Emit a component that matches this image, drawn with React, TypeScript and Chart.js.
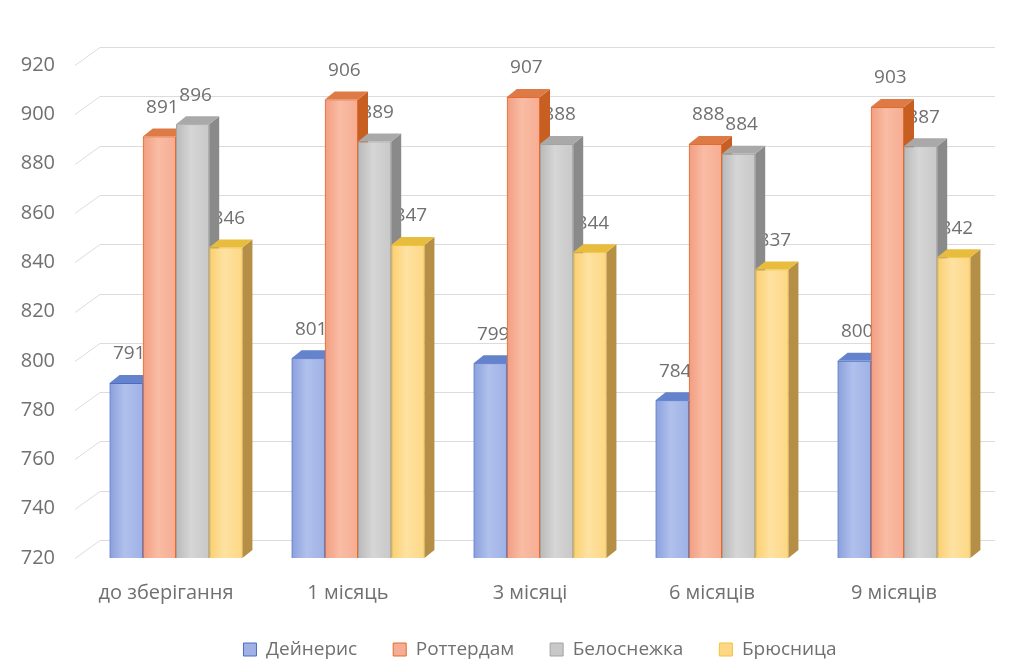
import React, { useEffect, useRef } from "react";
import { Chart, registerables } from "chart.js";

Chart.register(...registerables);

const categories = ["до зберігання", "1 місяць", "3 місяці", "6 місяців", "9 місяців"];
const seriesNames = ["Дейнерис", "Роттердам", "Белоснежка", "Брюсница"];
const dayneris = [791, 801, 799, 784, 800];
const rotterdam = [891, 906, 907, 888, 903];
const belosnezhka = [896, 889, 888, 884, 887];
const bryusnitsa = [846, 847, 844, 837, 842];
const yMin = 720;
const yMax = 920;
const yStep = 20;

const front = ["#9fb2e6", "#f6ad93", "#c8c8c8", "#fdd784"];
const frontEdge = ["#8aa0dc", "#f29d80", "#b9b9b9", "#fccf6e"];
const frontMid = ["#b0c0ec", "#f9bca4", "#d6d6d6", "#fee2a2"];
const border = ["#4a6cc8", "#e46a2e", "#a3a3a3", "#f4c33c"];
const side = ["#4f6db5", "#c85f22", "#8a8a8a", "#b58f45"];
const top = ["#6583cc", "#dd7a45", "#a9a9a9", "#e8bd3e"];

const DX = 10;
const DY = -8;
const TEXT = "#707070";
const FONT = "'Open Sans', sans-serif";

const bars3dPlugin = {
  id: "bars3d",
  beforeDatasetsDraw(chart: any) {
    const { ctx, chartArea, scales } = chart;
    const y = scales.y;
    ctx.save();
    ctx.strokeStyle = "#dcdcdc";
    ctx.lineWidth = 1;
    for (let v = yMin; v <= yMax; v += yStep) {
      const py = Math.round(y.getPixelForValue(v)) + 0.5;
      ctx.beginPath();
      ctx.moveTo(chartArea.left - 10, py);
      ctx.lineTo(chartArea.left + 15, py - 18);
      ctx.lineTo(chartArea.right, py - 18);
      ctx.stroke();
    }
    ctx.restore();
  },
  afterDatasetsDraw(chart: any) {
    const { ctx, chartArea } = chart;
    ctx.save();
    ctx.font = `19px ${FONT}`;
    ctx.fillStyle = TEXT;
    ctx.textAlign = "center";
    ctx.textBaseline = "middle";
    chart.data.datasets.forEach((ds: any, di: number) => {
      const meta = chart.getDatasetMeta(di);
      meta.data.forEach((bar: any, i: number) => {
        ctx.fillText(String(ds.data[i]), bar.x + 3, bar.y - 29);
      });
    });
    chart.data.datasets.forEach((ds: any, di: number) => {
      const meta = chart.getDatasetMeta(di);
      meta.data.forEach((bar: any) => {
        const w = bar.width;
        const l = bar.x - w / 2;
        const r = bar.x + w / 2;
        const t = bar.y;
        const b = Math.min(bar.base, chartArea.bottom);
        const g = ctx.createLinearGradient(l, 0, r, 0);
        g.addColorStop(0, frontEdge[di]);
        g.addColorStop(0.45, frontMid[di]);
        g.addColorStop(1, front[di]);
        ctx.save();
        ctx.beginPath();
        ctx.rect(chartArea.left, chartArea.top - 60, chartArea.right - chartArea.left + 20, chartArea.bottom - chartArea.top + 60);
        ctx.clip();
        const o = bar.options;
        bar.options = { ...o, backgroundColor: g };
        bar.draw(ctx, chartArea);
        bar.options = o;
        ctx.restore();
        ctx.fillStyle = side[di];
        ctx.beginPath();
        ctx.moveTo(r, t);
        ctx.lineTo(r + DX, t + DY);
        ctx.lineTo(r + DX, b + DY);
        ctx.lineTo(r, b);
        ctx.closePath();
        ctx.fill();
        ctx.fillStyle = top[di];
        ctx.beginPath();
        ctx.moveTo(l, t);
        ctx.lineTo(l + DX, t + DY);
        ctx.lineTo(r + DX, t + DY);
        ctx.lineTo(r, t);
        ctx.closePath();
        ctx.fill();
      });
    });
    ctx.restore();
  },
};

export default function App() {
  const ref = useRef<HTMLCanvasElement | null>(null);
  useEffect(() => {
    document.body.style.margin = "0";
    const all = [dayneris, rotterdam, belosnezhka, bryusnitsa];
    const chart = new Chart(ref.current as HTMLCanvasElement, {
      type: "bar",
      data: {
        labels: categories,
        datasets: all.map((d, i) => ({
          label: seriesNames[i],
          data: d,
          backgroundColor: front[i],
          borderColor: border[i],
          borderWidth: 1,
          barPercentage: 1,
          categoryPercentage: 0.73,
        })),
      },
      options: {
        animation: false,
        responsive: false,
        layout: { padding: { top: 65, right: 15, left: 0, bottom: 0 } },
        scales: {
          x: {
            grid: { display: false },
            border: { display: false },
            ticks: { color: TEXT, font: { family: FONT, size: 20 }, labelOffset: -10, padding: 15 },
            afterFit: (scale: any) => {
              scale.height = 46;
            },
          },
          y: {
            min: yMin,
            max: yMax,
            grid: { display: false },
            border: { display: false },
            ticks: { stepSize: yStep, color: TEXT, font: { family: FONT, size: 20 }, padding: 22 },
            afterFit: (scale: any) => {
              scale.width = 85;
            },
          },
        },
        plugins: {
          legend: {
            position: "bottom",
            fullSize: false,
            maxHeight: 59,
            labels: {
              color: TEXT,
              font: { family: FONT, size: 19 },
              boxWidth: 13,
              boxHeight: 13,
              padding: 36,
              sort: (a: any, b: any) => a.datasetIndex - b.datasetIndex,
            },
          },
          tooltip: { enabled: false },
        },
      },
      plugins: [bars3dPlugin],
    });
    return () => chart.destroy();
  }, []);
  return (
    <div style={{ position: "fixed", left: 0, top: 0, width: 1010, height: 663, background: "#fff" }}>
      <canvas ref={ref} width={1010} height={663} />
    </div>
  );
}
